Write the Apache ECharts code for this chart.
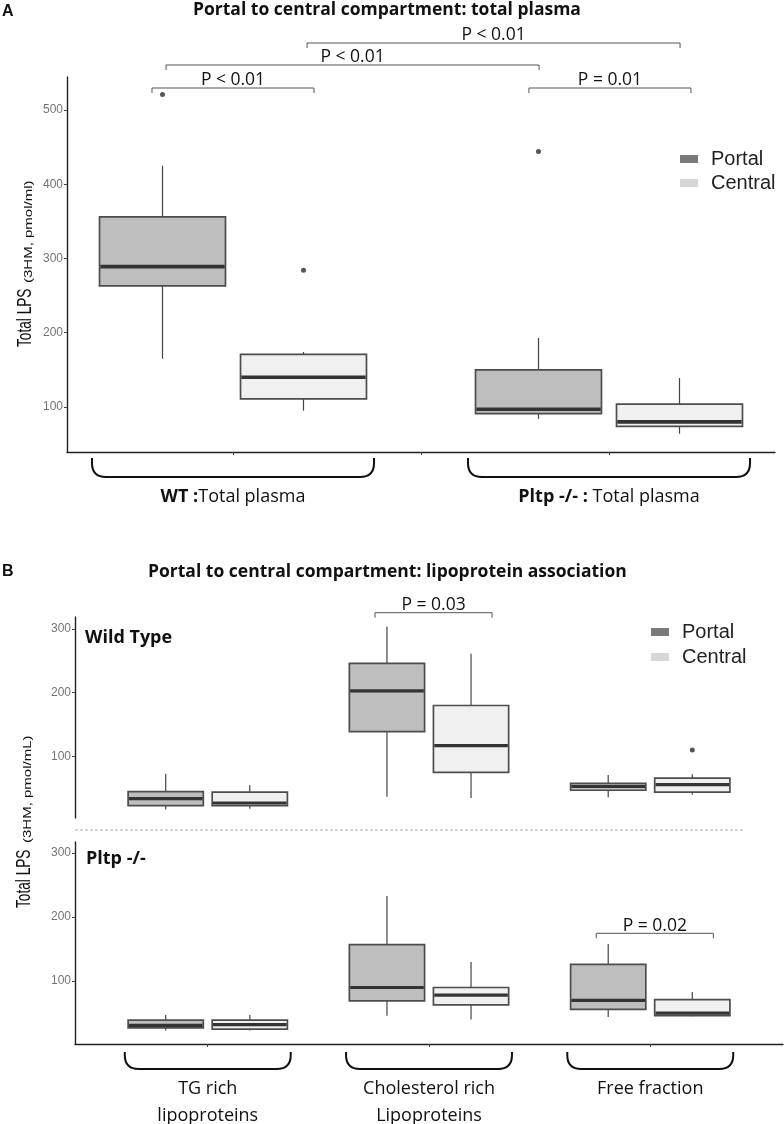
<!DOCTYPE html>
<html><head><meta charset="utf-8">
<script src="https://cdn.jsdelivr.net/npm/echarts@6/dist/echarts.min.js"></script>
<style>html,body{margin:0;padding:0;background:#fff}#main{width:784px;height:1124px}</style>
</head><body><div id="main"></div>
<script>
// ---------------- Data ----------------
const groupsA = ['WT :Total plasma', 'Pltp -/- : Total plasma'];
// each box: [min, Q1, median, Q3, max]
const portalA = [[165, 263, 289, 356, 425], [84, 91, 97, 150, 193]];
const centralA = [[95, 111, 140, 171, 174], [64, 74, 80, 104, 139]];
// outliers: [group index, value]
const portalOutA = [[0, 521], [1, 444]];
const centralOutA = [[0, 284]];
const pLabelsA = ['P < 0.01', 'P < 0.01', 'P < 0.01', 'P = 0.01'];
const yTicksA = [100, 200, 300, 400, 500];

const groupsB = ['TG rich\nlipoproteins', 'Cholesterol rich\nLipoproteins', 'Free fraction'];
const portalWT = [[17, 23, 34, 45, 73], [37, 139, 203, 246, 304], [36, 47, 53, 58, 71]];
const centralWT = [[18, 23, 27, 44, 55], [35, 75, 117, 180, 261], [40, 44, 56, 66, 72]];
const centralOutWT = [[2, 110]];
const portalKO = [[23, 27, 31, 39, 47], [46, 69, 90, 157, 233], [44, 56, 70, 126, 158]];
const centralKO = [[23, 25, 32, 39, 47], [40, 63, 78, 90, 130], [45, 46, 50, 71, 83]];
const pLabelsWT = ['P = 0.03'];
const pLabelsKO = ['P = 0.02'];
const yTicksB = [100, 200, 300];
const legendNames = ['Portal', 'Central'];

// ---------------- Layout / style ----------------
const FILL = { Portal: '#bebebe', Central: '#f0f0f0' };
const KEY = { Portal: '#7a7a7a', Central: '#d6d6d6' };
const layoutA = { off: 0.375, hw: 0.335, pos: i => 2 * i + 1, braceHalf: 0.75, braceTop: 6, braceBot: 25, med: 3.6 };
const layoutB = { off: 0.19, hw: 0.17, pos: i => i + 1, braceHalf: 0.375, braceTop: 8, braceBot: 25, med: 3.2 };
const yRangeA = [39.4, 544.4];
const yRangeWT = [3.5, 318.8];
const yRangeKO = [1.8, 317.2];
// bracket layout: [x1, x2 (axis units), y (pixels)]
const bracketPosA = [[0.569, 1.431, 88], [0.644, 2.628, 65], [1.394, 3.378, 43], [2.574, 3.436, 88]];
const bracketPosWT = [[1.756, 2.285, 612.7]];
const bracketPosKO = [[2.756, 3.285, 933.3]];
const SERIF = 'Open Sans';
const ARIAL = 'Liberation Sans';

function boxSeries(name, values, layout, sign, g) {
  return {
    type: 'custom', name, xAxisIndex: g, yAxisIndex: g, clip: false, z: 3,
    itemStyle: { color: KEY[name] },
    data: values.map((v, i) => [layout.pos(i), ...v]),
    encode: { x: 0, y: [1, 2, 3, 4, 5] },
    renderItem(params, api) {
      const c = api.value(0) + sign * layout.off;
      const y = k => api.coord([c, api.value(k)])[1];
      const xc = api.coord([c, 100])[0];
      const xl = api.coord([c - layout.hw, 100])[0];
      const xr = api.coord([c + layout.hw, 100])[0];
      const yMin = y(1), yQ1 = y(2), yMed = y(3), yQ3 = y(4), yMax = y(5);
      return {
        type: 'group', children: [
          { type: 'line', shape: { x1: xc, y1: yMin, x2: xc, y2: yMax }, style: { stroke: '#444', lineWidth: 1.2 } },
          { type: 'rect', shape: { x: xl, y: yQ3, width: xr - xl, height: yQ1 - yQ3 }, style: { fill: FILL[name], stroke: '#4d4d4d', lineWidth: 1.7 } },
          { type: 'line', shape: { x1: xl + 0.8, y1: yMed, x2: xr - 0.8, y2: yMed }, style: { stroke: '#333', lineWidth: layout.med } }
        ]
      };
    }
  };
}

function outlierSeries(outs, layout, sign, g) {
  return {
    type: 'scatter', xAxisIndex: g, yAxisIndex: g, symbolSize: 5, z: 4, silent: true,
    itemStyle: { color: '#2a2a2a' },
    data: outs.map(o => [layout.pos(o[0]) + sign * layout.off, o[1]])
  };
}

function bracketSeries(labels, pos, g) {
  return {
    type: 'custom', xAxisIndex: g, yAxisIndex: g, clip: false, silent: true, z: 5,
    data: labels.map((l, i) => [pos[i][0], pos[i][1], pos[i][2]]),
    encode: { x: [0, 1] },
    renderItem(params, api) {
      const i = params.dataIndex;
      const x1 = api.coord([api.value(0), 100])[0];
      const x2 = api.coord([api.value(1), 100])[0];
      const yy = api.value(2);
      return {
        type: 'group', children: [
          { type: 'polyline', shape: { points: [[x1, yy + 5], [x1, yy], [x2, yy], [x2, yy + 5]] }, style: { stroke: '#555', lineWidth: 1, fill: null } },
          { type: 'text', x: (x1 + x2) / 2, y: yy + 1.5, style: { text: labels[i], fontFamily: SERIF, fontSize: 17.5, fill: '#111', align: 'center', verticalAlign: 'bottom' } }
        ]
      };
    }
  };
}

function braceSeries(groups, layout, yMinVal, g) {
  return {
    type: 'custom', xAxisIndex: g, yAxisIndex: g, clip: false, silent: true, z: 5,
    data: groups.map((s, i) => [layout.pos(i)]),
    encode: { x: 0 },
    renderItem(params, api) {
      const c = api.value(0);
      const p1 = api.coord([c - layout.braceHalf, yMinVal]);
      const p2 = api.coord([c + layout.braceHalf, yMinVal]);
      const t = p1[1] + layout.braceTop, b = p1[1] + layout.braceBot, r = 14;
      const x1 = p1[0], x2 = p2[0];
      const d = `M${x1} ${t} L${x1} ${b - r} Q${x1} ${b} ${x1 + r} ${b} L${x2 - r} ${b} Q${x2} ${b} ${x2} ${b - r} L${x2} ${t}`;
      return { type: 'path', shape: { pathData: d }, style: { stroke: '#111', lineWidth: 2, fill: null } };
    }
  };
}

function yAxisOpt(g, range, ticks) {
  return {
    gridIndex: g, type: 'value', min: range[0], max: range[1],
    axisLine: { show: true, onZero: false, lineStyle: { color: '#222', width: 1.4 } },
    axisTick: { show: true, customValues: ticks, length: 3, lineStyle: { color: '#444' } },
    axisLabel: { customValues: ticks, color: '#737373', fontSize: 12, fontFamily: ARIAL, margin: 4 },
    splitLine: { show: false }
  };
}

const legendCommon = {
  orient: 'vertical', icon: 'rect', itemWidth: 18, itemHeight: 8, padding: 0,
  data: legendNames, selectedMode: false,
  textStyle: { fontFamily: ARIAL, fontSize: 20, color: '#222', lineHeight: 20, padding: [0, 0, 0, 8] }
};

const option = {
  animation: false,
  backgroundColor: '#fff',
  title: [
    { text: 'A', left: 2, top: 4, padding: 0, textStyle: { fontFamily: ARIAL, fontWeight: 'bold', fontSize: 16, color: '#111' } },
    { text: 'Portal to central compartment: total plasma', left: 193, top: 1, padding: 0, textStyle: { fontFamily: SERIF, fontWeight: 'bold', fontSize: 17.5, color: '#111' } },
    { text: 'B', left: 2, top: 564, padding: 0, textStyle: { fontFamily: ARIAL, fontWeight: 'bold', fontSize: 16, color: '#111' } },
    { text: 'Portal to central compartment: lipoprotein association', left: 148, top: 563, padding: 0, textStyle: { fontFamily: SERIF, fontWeight: 'bold', fontSize: 17.5, color: '#111' } }
  ],
  legend: [
    Object.assign({}, legendCommon, { left: 680, top: 149, itemGap: 4 }),
    Object.assign({}, legendCommon, { left: 651, top: 622, itemGap: 5 })
  ],
  grid: [
    { left: 67, top: 77, width: 708, height: 375, outerBoundsMode: 'none' },
    { left: 75, top: 617, width: 708, height: 201, outerBoundsMode: 'none' },
    { left: 75, top: 842, width: 708, height: 202, outerBoundsMode: 'none' }
  ],
  xAxis: [
    {
      gridIndex: 0, type: 'value', min: 0.117, max: 3.883,
      axisLine: { show: true, onZero: false, lineStyle: { color: '#222', width: 1.4 } },
      axisTick: { show: true, customValues: [1, 2, 3], length: 3, lineStyle: { color: '#444' } },
      axisLabel: {
        customValues: [1, 3], margin: 36,
        formatter: v => { const s = groupsA[Math.round((v - 1) / 2)]; const k = s.indexOf(':') + 1; return '{b|' + s.slice(0, k) + '}{r|' + s.slice(k) + '}'; },
        rich: {
          b: { fontFamily: SERIF, fontWeight: 'bold', fontSize: 18, color: '#111' },
          r: { fontFamily: SERIF, fontSize: 18, color: '#111' }
        }
      },
      splitLine: { show: false }
    },
    { gridIndex: 1, type: 'value', min: 0.4, max: 3.6, show: false },
    {
      gridIndex: 2, type: 'value', min: 0.4, max: 3.6,
      axisLine: { show: true, onZero: false, lineStyle: { color: '#222', width: 1.4 } },
      axisTick: { show: true, customValues: [1, 2, 3], length: 3, lineStyle: { color: '#444' } },
      axisLabel: {
        customValues: [1, 2, 3], margin: 31, formatter: v => groupsB[Math.round(v) - 1],
        fontFamily: SERIF, fontSize: 18, lineHeight: 27, color: '#111', align: 'center'
      },
      splitLine: { show: false }
    }
  ],
  yAxis: [yAxisOpt(0, yRangeA, yTicksA), yAxisOpt(1, yRangeWT, yTicksB), yAxisOpt(2, yRangeKO, yTicksB)],
  graphic: [
    { type: 'text', x: 36, y: 347, rotation: Math.PI / 2, scaleX: 0.65, style: { text: 'Total LPS', fontFamily: ARIAL, fontSize: 21, fill: '#111', align: 'left', verticalAlign: 'bottom' } },
    { type: 'text', x: 34, y: 283, rotation: Math.PI / 2, scaleX: 1.5, style: { text: '(3HM, pmol/ml)', fontFamily: ARIAL, fontSize: 10, fill: '#111', align: 'left', verticalAlign: 'bottom' } },
    { type: 'text', x: 35, y: 908, rotation: Math.PI / 2, scaleX: 0.65, style: { text: 'Total LPS', fontFamily: ARIAL, fontSize: 21, fill: '#111', align: 'left', verticalAlign: 'bottom' } },
    { type: 'text', x: 33, y: 843, rotation: Math.PI / 2, scaleX: 1.5, style: { text: '(3HM, pmol/mL)', fontFamily: ARIAL, fontSize: 10, fill: '#111', align: 'left', verticalAlign: 'bottom' } },
    { type: 'text', x: 85, y: 638, style: { text: 'Wild Type', fontFamily: SERIF, fontWeight: 'bold', fontSize: 18, fill: '#111', align: 'left', verticalAlign: 'middle' } },
    { type: 'text', x: 86, y: 859, style: { text: 'Pltp -/-', fontFamily: SERIF, fontWeight: 'bold', fontSize: 18, fill: '#111', align: 'left', verticalAlign: 'middle' } },
    { type: 'line', shape: { x1: 75, y1: 830, x2: 743, y2: 830 }, style: { stroke: '#aaa', lineWidth: 1, lineDash: [3, 2] } }
  ],
  series: [
    boxSeries('Portal', portalA, layoutA, -1, 0),
    boxSeries('Central', centralA, layoutA, 1, 0),
    outlierSeries(portalOutA, layoutA, -1, 0),
    outlierSeries(centralOutA, layoutA, 1, 0),
    bracketSeries(pLabelsA, bracketPosA, 0),
    braceSeries(groupsA, layoutA, yRangeA[0], 0),

    boxSeries('Portal', portalWT, layoutB, -1, 1),
    boxSeries('Central', centralWT, layoutB, 1, 1),
    outlierSeries(centralOutWT, layoutB, 1, 1),
    bracketSeries(pLabelsWT, bracketPosWT, 1),

    boxSeries('Portal', portalKO, layoutB, -1, 2),
    boxSeries('Central', centralKO, layoutB, 1, 2),
    bracketSeries(pLabelsKO, bracketPosKO, 2),
    braceSeries(groupsB, layoutB, yRangeKO[0], 2)
  ]
};

const chart = echarts.init(document.getElementById('main'), null, { renderer: 'canvas' });
chart.setOption(option);
</script>
</body></html>
